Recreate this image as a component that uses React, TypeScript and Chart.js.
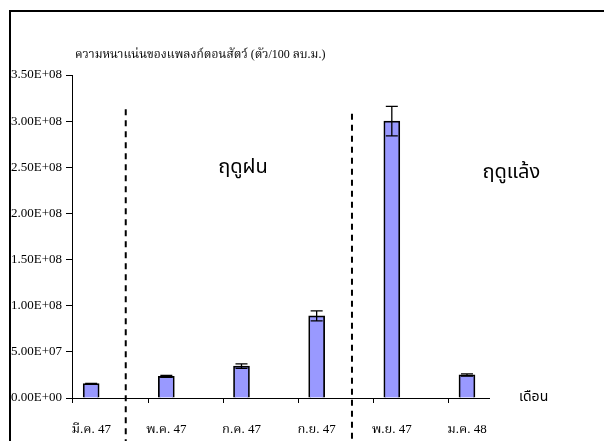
import React, { useEffect, useRef } from "react";
import { Chart, registerables } from "chart.js";
Chart.register(...registerables);

const months = ["มี.ค. 47", "พ.ค. 47", "ก.ค. 47", "ก.ย. 47", "พ.ย. 47", "ม.ค. 48"];
const density = [1.55e7, 2.35e7, 3.45e7, 8.9e7, 3.0e8, 2.5e7];
const densityErr = [0.4e6, 1.0e6, 2.5e6, 5.5e6, 1.6e7, 1.2e6];
const yTickValues = [0, 5e7, 1e8, 1.5e8, 2e8, 2.5e8, 3e8, 3.5e8];
const seasons = ["ฤดูฝน", "ฤดูแล้ง"];
const yTitle = "ความหนาแน่นของแพลงก์ตอนสัตว์ (ตัว/100 ลบ.ม.)";
const xTitle = "เดือน";

// annotation placement in data units
const dividerX = [0.46, 3.47];
const dividerTop = [3.13e8, 3.08e8];
const seasonX = [2.02, 5.59];
const seasonY = [2.48e8, 2.43e8];

const SERIF = "'Liberation Serif', 'Times New Roman', 'Noto Serif Thai', serif";
const THAI = "'Noto Sans Thai', 'Tahoma', 'DejaVu Sans', sans-serif";

const sci = (v: number) => {
  if (v === 0) return "0.00E+00";
  const e = Math.floor(Math.log10(v) + 1e-9);
  const m = v / Math.pow(10, e);
  return m.toFixed(2) + "E+" + String(e).padStart(2, "0");
};

const decor = {
  id: "decor",
  beforeDraw(chart: any) {
    const ctx = chart.ctx;
    ctx.save();
    ctx.fillStyle = "#fff";
    ctx.fillRect(0, 0, chart.width, chart.height);
    ctx.fillStyle = "#000";
    ctx.fillRect(9, 10, 2, chart.height - 10);
    ctx.fillRect(9, 10, chart.width - 9, 2);
    ctx.restore();
  },
  afterDraw(chart: any) {
    const ctx = chart.ctx;
    const xs = chart.scales.x;
    const ys = chart.scales.y;
    ctx.save();
    // x tick marks
    ctx.strokeStyle = "#000";
    ctx.lineWidth = 1;
    const y0 = ys.getPixelForValue(0);
    for (let k = 0; k < months.length; k++) {
      const px = Math.round(xs.getPixelForValue(-0.25 + k)) + 0.5;
      ctx.beginPath();
      ctx.moveTo(px, y0);
      ctx.lineTo(px, y0 + 5);
      ctx.stroke();
    }
    // error bars
    const meta = chart.getDatasetMeta(0);
    ctx.lineWidth = 1.3;
    meta.data.forEach((bar: any, i: number) => {
      const e = densityErr[i];
      const v = density[i];
      const cx = bar.x;
      const top = ys.getPixelForValue(v + e);
      const bot = ys.getPixelForValue(v - e);
      ctx.beginPath();
      ctx.moveTo(cx, top);
      ctx.lineTo(cx, bot);
      ctx.moveTo(cx - 6, top);
      ctx.lineTo(cx + 6, top);
      ctx.moveTo(cx - 6, bot);
      ctx.lineTo(cx + 6, bot);
      ctx.stroke();
    });
    // dashed dividers
    ctx.lineWidth = 2;
    ctx.setLineDash([6, 5]);
    dividerX.forEach((dx, i) => {
      const px = xs.getPixelForValue(dx);
      ctx.beginPath();
      ctx.moveTo(px, ys.getPixelForValue(dividerTop[i]));
      ctx.lineTo(px, chart.height);
      ctx.stroke();
    });
    ctx.setLineDash([]);
    // season labels
    ctx.fillStyle = "#000";
    ctx.font = "20px " + THAI;
    ctx.textAlign = "center";
    ctx.textBaseline = "middle";
    seasons.forEach((s, i) => {
      ctx.fillText(s, xs.getPixelForValue(seasonX[i]), ys.getPixelForValue(seasonY[i]));
    });
    // y title
    ctx.font = "12px " + SERIF;
    ctx.textAlign = "left";
    ctx.fillText(yTitle, 75, 55);
    // x title
    ctx.font = "14px " + THAI;
    ctx.fillText(xTitle, 519, y0);
    ctx.restore();
  },
};

export default function App() {
  const ref = useRef<HTMLCanvasElement>(null);
  useEffect(() => {
    if (!ref.current) return;
    const chart = new Chart(ref.current, {
      type: "bar",
      data: {
        datasets: [
          {
            data: density.map((v, i) => ({ x: i, y: v })),
            backgroundColor: "#9999FF",
            borderColor: "#000",
            borderWidth: 1.7,
            barThickness: 16,
          },
        ],
      },
      options: {
        animation: false,
        responsive: false,
        events: [],
        layout: { padding: { left: 0, right: 115, top: 75, bottom: 0 } },
        plugins: { legend: { display: false }, tooltip: { enabled: false } },
        scales: {
          x: {
            type: "linear",
            min: -0.255,
            max: 5.293,
            offset: false,
            afterBuildTicks: (s: any) => {
              s.ticks = months.map((_, i) => ({ value: i }));
            },
            afterFit: (s: any) => {
              s.height = 43;
            },
            grid: { display: false, drawTicks: false },
            border: { display: true, color: "#000", width: 1 },
            ticks: {
              autoSkip: false,
              maxRotation: 0,
              padding: 24,
              color: "#000",
              font: { family: SERIF, size: 13 },
              callback: (v: any) => months[v as number] ?? "",
            },
          },
          y: {
            min: 0,
            max: 3.5e8,
            afterBuildTicks: (s: any) => {
              s.ticks = yTickValues.map((v) => ({ value: v }));
            },
            afterFit: (s: any) => {
              s.width = 72;
            },
            grid: { drawOnChartArea: false, drawTicks: true, tickLength: 6, color: "#000" },
            border: { display: true, color: "#000", width: 1 },
            ticks: {
              padding: 4,
              color: "#000",
              font: { family: SERIF, size: 13 },
              callback: (v: any) => sci(Number(v)),
            },
          },
        },
      },
      plugins: [decor],
    });
    return () => chart.destroy();
  }, []);
  return (
    <div style={{ position: "absolute", left: 0, top: 0, width: 604, height: 441 }}>
      <canvas ref={ref} width={604} height={441} style={{ display: "block" }} />
    </div>
  );
}
